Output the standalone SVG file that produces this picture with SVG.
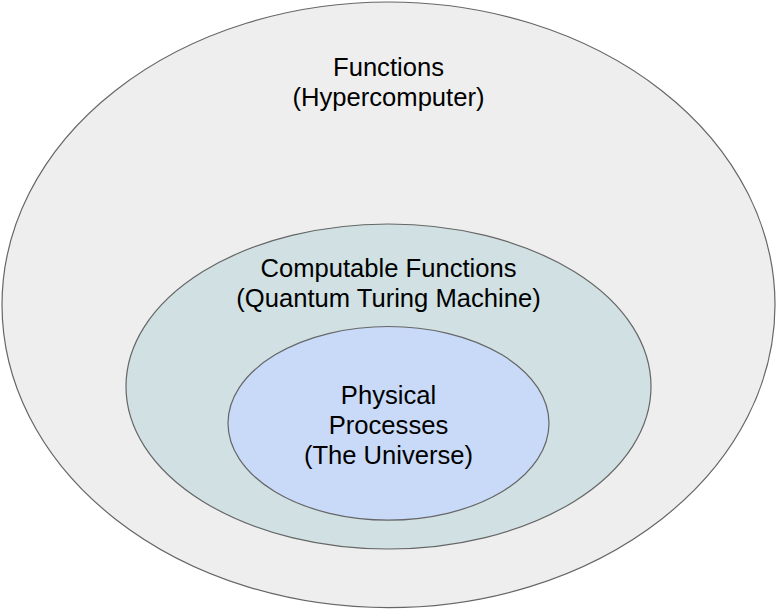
<svg xmlns="http://www.w3.org/2000/svg" width="777" height="610" viewBox="0 0 777 610">
<style>
.sh{stroke:#666666;stroke-width:1.2}
.t{font-family:"Liberation Sans",Arial,sans-serif;font-size:25.6px;fill:#000000;text-anchor:middle}
</style>
<rect width="777" height="610" fill="#ffffff"/>
<g id="functions">
<ellipse class="sh" cx="388.5" cy="304.8" rx="386.5" ry="302.8" fill="#eeeeee"/>
<text class="t" x="388.5" y="76">Functions</text>
<text class="t" x="388.5" y="105.5">(Hypercomputer)</text>
</g>
<g id="computable">
<ellipse class="sh" cx="388.5" cy="386.5" rx="262.5" ry="162.5" fill="#d0e0e3"/>
<text class="t" x="388.5" y="277">Computable Functions</text>
<text class="t" x="388.5" y="306.5">(Quantum Turing Machine)</text>
</g>
<g id="physical">
<ellipse class="sh" cx="388.5" cy="423.3" rx="160.5" ry="96.8" fill="#c9daf8"/>
<text class="t" x="388.5" y="404">Physical</text>
<text class="t" x="388.5" y="434">Processes</text>
<text class="t" x="388.5" y="464">(The Universe)</text>
</g>
<g id="connectors"></g>
</svg>
